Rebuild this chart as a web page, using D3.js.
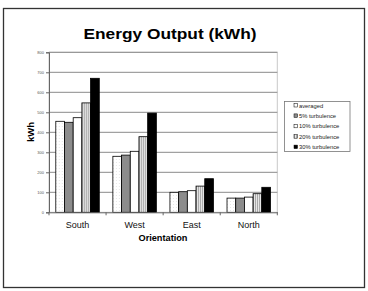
<!DOCTYPE html>
<html><head><meta charset="utf-8">
<script src="https://cdn.jsdelivr.net/npm/d3@7/dist/d3.min.js"></script>
<style>body{margin:0;background:#fff}svg{display:block;font-family:Arial,"Liberation Sans",sans-serif}</style>
</head><body>
<script>
const categories = ["South", "West", "East", "North"];
const seriesNames = ["averaged", "5% turbulence", "10% turbulence", "20% turbulence", "30% turbulence"];
const averaged = [455, 280, 100, 71];
const turb5 = [450, 286, 103, 71];
const turb10 = [473, 305, 108, 76];
const turb20 = [547, 378, 131, 93];
const turb30 = [670, 496, 168, 125];
const yTicks = [0, 100, 200, 300, 400, 500, 600, 700, 800];
const seriesValues = [averaged, turb5, turb10, turb20, turb30];

const W = 368, H = 291;
const svg = d3.select("body").append("svg").attr("width", W).attr("height", H);
svg.append("rect").attr("width", W).attr("height", H).attr("fill", "#fff");

const defs = svg.append("defs");
const pDot = defs.append("pattern").attr("id", "pdot").attr("width", 3).attr("height", 3).attr("patternUnits", "userSpaceOnUse");
pDot.append("rect").attr("width", 3).attr("height", 3).attr("fill", "#fff");
pDot.append("rect").attr("width", 1).attr("height", 1).attr("fill", "#e6e6e6");
const pStripe = defs.append("pattern").attr("id", "pstripe").attr("width", 2).attr("height", 2).attr("patternUnits", "userSpaceOnUse");
pStripe.append("rect").attr("width", 2).attr("height", 2).attr("fill", "#e8e8e8");
pStripe.append("rect").attr("width", 1).attr("height", 2).attr("fill", "#a8a8a8");

const fills = ["url(#pdot)", "#8c8c8c", "#ffffff", "url(#pstripe)", "#000000"];

// outer frame
svg.append("rect").attr("x", 3.5).attr("y", 8.5).attr("width", 361).attr("height", 279)
  .attr("fill", "none").attr("stroke", "#333").attr("stroke-width", 1.3);

const plot = {l: 49, r: 277.3, t: 52.3, b: 212.3};
const y = d3.scaleLinear().domain([0, 800]).range([plot.b, plot.t]);
const x0 = d3.scaleBand().domain(categories).range([plot.l, plot.r]).paddingInner(0.238).paddingOuter(0.119);
const x1 = d3.scaleBand().domain(d3.range(seriesNames.length)).range([0, x0.bandwidth()]);

// plot border
svg.append("rect").attr("x", plot.l).attr("y", plot.t).attr("width", plot.r - plot.l).attr("height", plot.b - plot.t)
  .attr("fill", "none").attr("stroke", "#c8c8c8").attr("stroke-width", 1);

// gridlines
svg.append("g").selectAll("line").data(yTicks.filter(d => d > 0)).join("line")
  .attr("x1", plot.l).attr("x2", plot.r).attr("y1", d => y(d)).attr("y2", d => y(d))
  .attr("stroke", "#8a8a8a").attr("stroke-width", 1);

// bars
const groups = svg.append("g").selectAll("g").data(categories).join("g")
  .attr("transform", d => `translate(${x0(d)},0)`);
groups.selectAll("rect").data((c, ci) => seriesValues.map((s, si) => ({si, v: s[ci]}))).join("rect")
  .attr("x", d => x1(d.si)).attr("width", x1.bandwidth())
  .attr("y", d => y(d.v)).attr("height", d => y(0) - y(d.v))
  .attr("fill", d => fills[d.si]).attr("stroke", "#000").attr("stroke-width", 0.8);

// y axis
const yAxis = d3.axisLeft(y).tickValues(yTicks).tickSize(3).tickPadding(2);
const gy = svg.append("g").attr("transform", `translate(${plot.l},0)`).call(yAxis);
gy.select(".domain").attr("stroke", "#666");
gy.selectAll(".tick line").attr("stroke", "#666");
gy.selectAll("text").attr("font-size", 4).attr("fill", "#555");

// x axis
const xAxis = d3.axisBottom(x0).tickSize(0).tickPadding(9);
const gx = svg.append("g").attr("transform", `translate(0,${plot.b})`).call(xAxis);
gx.select(".domain").attr("stroke", "#666");
gx.selectAll("text").attr("font-size", 9).attr("fill", "#111");
// category boundary ticks
const bounds = categories.map(c => x0(c) - x0.step() * x0.paddingInner() / 2).concat([plot.r]);
svg.append("g").selectAll("line").data(bounds).join("line")
  .attr("x1", d => d).attr("x2", d => d).attr("y1", plot.b).attr("y2", plot.b + 3)
  .attr("stroke", "#666");

// titles
svg.append("text").attr("x", 170).attr("y", 38.5).attr("text-anchor", "middle")
  .attr("font-size", 14).attr("font-weight", "bold").attr("textLength", 173).attr("lengthAdjust", "spacingAndGlyphs")
  .text("Energy Output (kWh)");
svg.append("text").attr("transform", "translate(33.5,132) rotate(-90)").attr("text-anchor", "middle")
  .attr("font-size", 9.5).attr("font-weight", "bold").text("kWh");
svg.append("text").attr("x", 163).attr("y", 241).attr("text-anchor", "middle")
  .attr("font-size", 9.2).attr("font-weight", "bold").text("Orientation");

// legend
const lg = svg.append("g");
lg.append("rect").attr("x", 284.5).attr("y", 101.5).attr("width", 65.5).attr("height", 50)
  .attr("fill", "#fff").attr("stroke", "#777").attr("stroke-width", 0.8);
const li = lg.selectAll("g").data(seriesNames).join("g")
  .attr("transform", (d, i) => `translate(294,${105.5 + i * 10.4})`);
li.append("rect").attr("x", 0).attr("y", -2).attr("width", 3.5).attr("height", 3.5)
  .attr("fill", (d, i) => fills[i]).attr("stroke", "#000").attr("stroke-width", 0.5);
li.append("text").attr("x", 5).attr("y", 2).attr("font-size", 5.8).attr("fill", "#222").text(d => d);
</script>
</body></html>
